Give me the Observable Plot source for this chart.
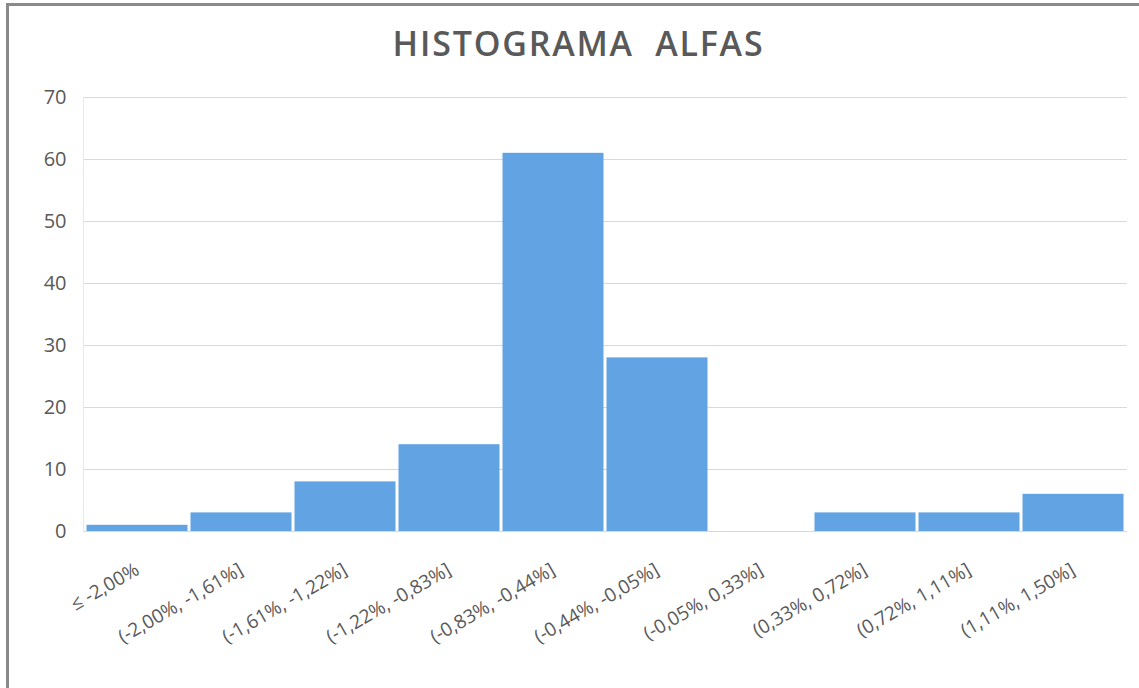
<!DOCTYPE html>
<html>
<head>
<meta charset="utf-8">
<script src="https://cdn.jsdelivr.net/npm/d3@7"></script>
<script src="https://cdn.jsdelivr.net/npm/@observablehq/plot@0.6"></script>
<style>
  html, body { margin: 0; padding: 0; background: #fff; }
  body { width: 1139px; height: 688px; position: relative; overflow: hidden; font-family: "Open Sans", sans-serif; }
  #frame { position: absolute; left: 6px; top: 3px; width: 1140px; height: 700px; border-top: 3px solid #8a8a8a; border-left: 3px solid #8a8a8a; box-sizing: border-box; pointer-events: none; }
  #title { height: 80px; line-height: 87px; text-align: center; font-size: 34px; font-weight: 600; color: #595959; padding-left: 18px; letter-spacing: 1.8px; }
</style>
</head>
<body>
<div id="title">HISTOGRAMA&nbsp; ALFAS</div>
<div id="chart"></div>
<div id="frame"></div>
<script>
const categories = ["≤ -2,00%", "(-2,00%, -1,61%]", "(-1,61%, -1,22%]", "(-1,22%, -0,83%]", "(-0,83%, -0,44%]", "(-0,44%, -0,05%]", "(-0,05%, 0,33%]", "(0,33%, 0,72%]", "(0,72%, 1,11%]", "(1,11%, 1,50%]"];
const counts = [1, 3, 8, 14, 61, 28, 0, 3, 3, 6];
const yTicks = [0, 10, 20, 30, 40, 50, 60, 70];

const data = categories.map((c, i) => ({category: c, count: counts[i]}));

const chart = Plot.plot({
  width: 1139,
  height: 608,
  marginTop: 17,
  marginBottom: 157,
  marginLeft: 83,
  marginRight: 12,
  style: {fontFamily: "Open Sans, sans-serif", color: "#595959", background: "transparent"},
  x: {domain: categories, padding: 0, axis: null},
  y: {domain: [0, 70], ticks: yTicks},
  marks: [
    Plot.gridY(yTicks, {stroke: "#d9d9d9", strokeOpacity: 1}),
    Plot.frame({anchor: "left", stroke: "#e8e8e8"}),
    Plot.barY(data, {x: "category", y: "count", fill: "#62a4e3", insetLeft: 1.5, insetRight: 1.5}),
    Plot.axisY(yTicks, {tickSize: 0, tickPadding: 17, fontSize: 20, fill: "#595959", label: null}),
    Plot.text(categories, {x: d => d, frameAnchor: "bottom", rotate: -30, textAnchor: "end", lineAnchor: "bottom", dx: 3, dy: 42, fontSize: 19, fill: "#595959"})
  ]
});
document.getElementById("chart").appendChild(chart);
</script>
</body>
</html>
